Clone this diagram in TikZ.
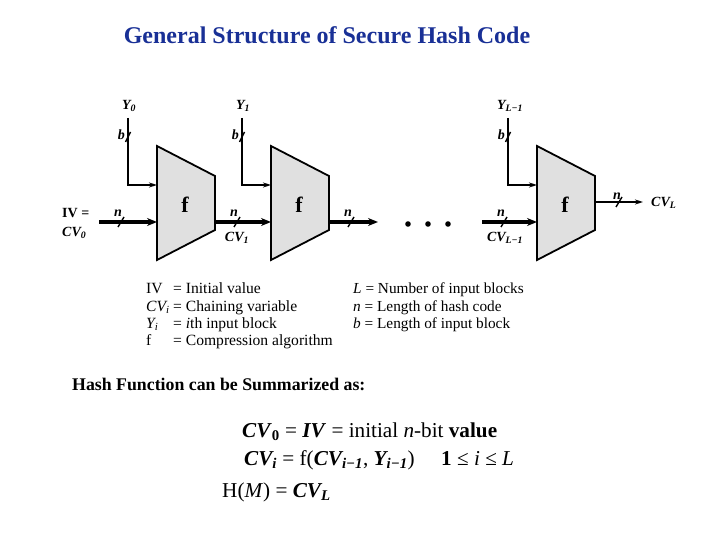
\documentclass[tikz,border=0pt]{standalone}
\usepackage{fontspec}
\setmainfont{Liberation Serif}
\usetikzlibrary{arrows.meta}
\definecolor{titleblue}{RGB}{25,48,150}
\newcommand\sub[1]{\textsubscript{#1}}
\begin{document}
\begin{tikzpicture}[x=1pt,y=-1pt,
  blk/.style={draw,line width=1.8pt,fill=black!12,line join=miter},
  cvline/.style={line width=3.6pt,-{Stealth[length=10pt,width=8pt]}},
  yline/.style={line width=1.5pt,-{Stealth[length=8pt,width=5pt]}},
  slashmark/.style={line width=1.4pt},
  lbl/.style={font=\bfseries\itshape\fontsize{14}{14}\selectfont,inner sep=0pt},
  flbl/.style={font=\bfseries\fontsize{22}{22}\selectfont,inner sep=0pt},
  leg/.style={font=\fontsize{15.6}{16}\selectfont,inner sep=0pt,anchor=base west},
  legr/.style={font=\fontsize{15.3}{16}\selectfont,inner sep=0pt,anchor=base west},
  eqn/.style={font=\fontsize{21.2}{22}\selectfont,inner sep=0pt,anchor=base west}
]
\useasboundingbox (0,0) rectangle (720,540);

% title
\node[font=\bfseries\fontsize{24}{24}\selectfont,text=titleblue,inner sep=0pt] (title) at (327,35) {General Structure of Secure Hash Code};

% blocks
\foreach \n/\x in {1/157,2/271,3/537} {
  \draw[blk] (\x,146) -- (\x+58,176) -- (\x+58,230) -- (\x,260) -- cycle;
  \coordinate (in\n) at (\x,222);
  \coordinate (yin\n) at (\x,185);
  \coordinate (out\n) at (\x+58,222);
  \node[flbl] (f\n) at (\x+28,205) {f};
}
\coordinate (out3) at (595,202);

% Y inputs
\foreach \n/\x in {1/128,2/242,3/508} {
  \coordinate (ytop\n) at (\x,118);
  \draw[yline] (ytop\n) |- (yin\n);
  \draw[slashmark] (\x-2.5,142) -- (\x+2.5,132);
  \node[lbl,anchor=east] (b\n) at (\x-3,135) {b};
}
\node[lbl] (Y0) at (129,106) {Y\sub{0}};
\node[lbl] (Y1) at (243,106) {Y\sub{1}};
\node[lbl] (Y3) at (510,106) {Y\sub{L−1}};

% main chain
\coordinate (ivstart) at (99,222);
\coordinate (dotsend) at (378,222);
\coordinate (dotsstart) at (482,222);
\coordinate (cvl) at (643,202);
\draw[cvline] (ivstart) -- (in1);
\draw[cvline] (out1) -- (in2);
\draw[cvline] (out2) -- (dotsend);
\draw[cvline] (dotsstart) -- (in3);
\draw[yline] (out3) -- (cvl);

% n slashes
\foreach \x/\y in {121/222,237/222,351/222,504/222,619/202} {
  \draw[slashmark] (\x-3,\y+5) -- (\x+3,\y-5);
}
\node[lbl] (n1) at (118,213) {n};
\node[lbl] (n2) at (234,213) {n};
\node[lbl] (n3) at (348,213) {n};
\node[lbl] (n4) at (501,213) {n};
\node[lbl] (n5) at (617,196) {n};

% dots
\foreach \x in {408,428,448} \fill (\x,224) circle (2.8pt);

% chain labels
\node[lbl,anchor=west] (cvlbl) at (651,203) {CV\sub{L}};
\node[lbl,font=\bfseries\fontsize{14}{14}\selectfont,anchor=west] (iv) at (62,213) {IV =};
\node[lbl,anchor=west] (cv0) at (62,233) {CV\sub{0}};
\node[lbl] (cv1) at (237,238) {CV\sub{1}};
\node[lbl] (cvl1) at (505,238) {CV\sub{L−1}};

% legend
\node[leg] (l1a) at (146,293) {IV};
\node[leg] (l2a) at (146,311) {\textit{CV\sub{i}}};
\node[leg] (l3a) at (146,328) {\textit{Y\sub{i}}};
\node[leg] (l4a) at (146,345) {f};
\node[leg] (l1b) at (173,293) {= Initial value};
\node[leg] (l2b) at (173,311) {= Chaining variable};
\node[leg] (l3b) at (173,328) {= \textit{i}th input block};
\node[leg] (l4b) at (173,345) {= Compression algorithm};
\node[legr] (r1) at (353,293) {\textit{L} = Number of input blocks};
\node[legr] (r2) at (353,311) {\textit{n} = Length of hash code};
\node[legr] (r3) at (353,328) {\textit{b} = Length of input block};

% summary
\node[font=\bfseries\fontsize{17.8}{18}\selectfont,inner sep=0pt,anchor=base west] (sum) at (72,390) {Hash Function can be Summarized as:};

\node[eqn] (e1) at (242,437) {\textbf{\textit{CV}\sub{0}} = \textbf{\textit{IV}} = initial \textit{n}-bit \textbf{value}};
\node[eqn] (e2) at (244,465) {\textbf{\textit{CV\sub{i}}} = f(\textbf{\textit{CV\sub{i−1}}}, \textbf{\textit{Y\sub{i−1}}})\quad\ \textbf{1} ≤ \textit{i} ≤ \textit{L}};
\node[eqn] (e3) at (222,497) {H(\textit{M}) = \textbf{\textit{CV\sub{L}}}};
\end{tikzpicture}
\end{document}
